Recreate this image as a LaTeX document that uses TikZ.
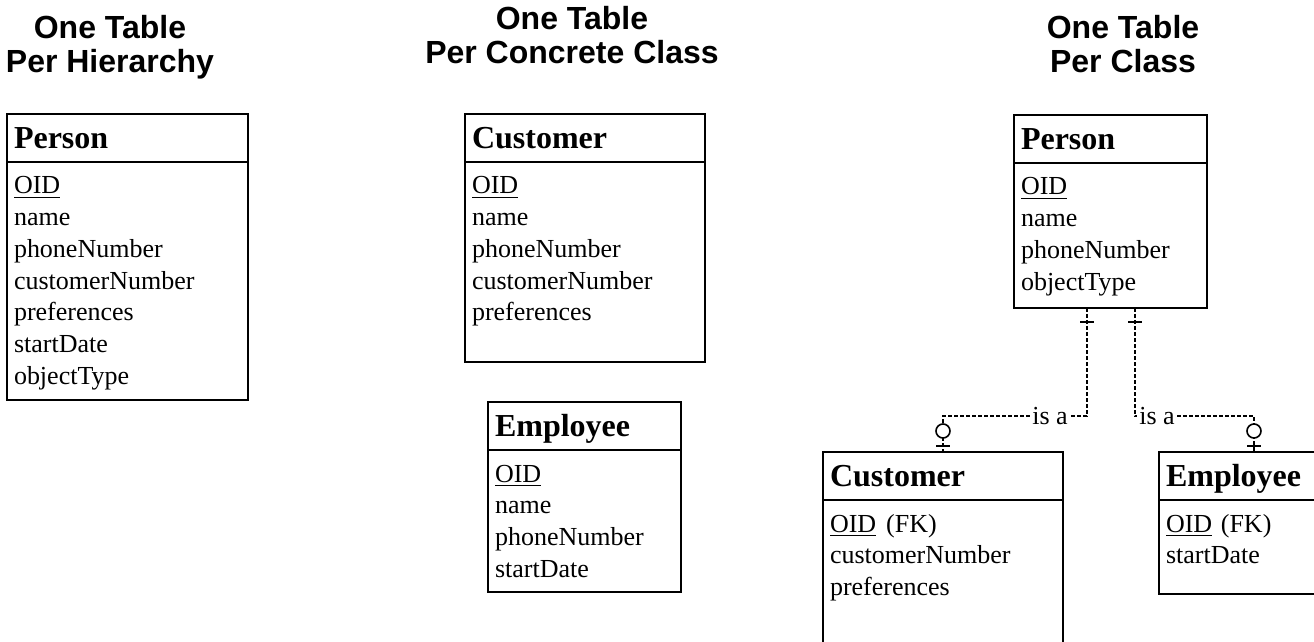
\documentclass[tikz,border=0pt]{standalone}
\usepackage{fontspec}
\setmainfont{Liberation Serif}
\newfontfamily\headfont{Liberation Sans}
\usetikzlibrary{positioning}

\begin{document}
\begin{tikzpicture}[x=0.5pt,y=-0.5pt,
  colhead/.style={align=center,anchor=north,inner sep=0pt,font=\headfont\bfseries\fontsize{16}{17}\selectfont},
  tabhead/.style={draw,line width=1pt,outer sep=0pt,anchor=north west,inner xsep=3.5pt,minimum height=24pt,
    text height=10.6pt,text depth=0pt,align=left,font=\bfseries\fontsize{16}{19}\selectfont},
  tabbody/.style={draw,line width=1pt,outer sep=0pt,below=0pt of #1,inner xsep=3.5pt,inner ysep=5pt,
    text height=11pt,align=left,font=\fontsize{13}{15.85}\selectfont},
  isa/.style={line width=0.6pt,dash pattern=on 2pt off 1pt},
  isa label/.style={inner sep=1pt,font=\fontsize{13}{15.85}\selectfont},
  isabar/.style={line width=0.8pt},
  isaring/.style={line width=0.8pt,fill=white}]
  \useasboundingbox (0,0) rectangle (1314,642);
  \clip (0,0) rectangle (1314,642);

  \node[colhead] (hierTitle) at (110,15) {One Table\\Per Hierarchy};
  \node[colhead] (concTitle) at (572,6) {One Table\\Per Concrete Class};
  \node[colhead] (classTitle) at (1123,15) {One Table\\Per Class};

  % one table per hierarchy
  \node[tabhead,text width=113.5pt] (hierP) at (7,114) {Person};
  \node[tabbody=hierP,text width=113.5pt,text depth=98pt] (hierPbody)
    {\underline{OID}\\name\\phoneNumber\\customerNumber\\preferences\\startDate\\objectType};

  % one table per concrete class
  \node[tabhead,text width=113pt] (concC) at (465,114) {Customer};
  \node[tabbody=concC,text width=113pt,text depth=79pt] (concCbody)
    {\underline{OID}\\name\\phoneNumber\\customerNumber\\preferences};
  \node[tabhead,text width=89.5pt] (concE) at (488,402) {Employee};
  \node[tabbody=concE,text width=89.5pt,text depth=50pt] (concEbody)
    {\underline{OID}\\name\\phoneNumber\\startDate};

  % one table per class
  \node[tabhead,text width=89.5pt] (classP) at (1014,115) {Person};
  \node[tabbody=classP,text width=89.5pt,text depth=51.5pt] (classPbody)
    {\underline{OID}\\name\\phoneNumber\\objectType};
  \node[tabhead,text width=113pt] (classC) at (823,452) {Customer};
  \node[tabbody=classC,text width=113pt,text depth=79pt] (classCbody)
    {\underline{OID}\hspace{5pt}(FK)\\customerNumber\\preferences};
  \node[tabhead,text width=88pt] (classE) at (1159,452) {Employee};
  \node[tabbody=classE,text width=88pt,text depth=26pt] (classEbody)
    {\underline{OID} (FK)\\startDate};

  \node[isa label] (isaC) at (1050,416) {is a};
  \node[isa label] (isaE) at (1157,416) {is a};
  \draw[isa] ([xshift=-11.75pt]classPbody.south) |- (isaC.east);
  \draw[isa] (isaC.west) -| (classC.north);
  \draw[isa] ([xshift=12.25pt]classPbody.south) |- (isaE.west);
  \draw[isa] (isaE.east) -| (classE.north);
  \draw[isabar] ([xshift=-11.75pt,yshift=-7pt]classPbody.south) +(-3.5pt,0) -- +(3.5pt,0);
  \draw[isabar] ([xshift=12.25pt,yshift=-7pt]classPbody.south) +(-3.5pt,0) -- +(3.5pt,0);
  \draw[isabar] ([yshift=3pt]classC.north) +(-3.5pt,0) -- +(3.5pt,0);
  \draw[isabar] ([yshift=3pt]classE.north) +(-3.5pt,0) -- +(3.5pt,0);
  \draw[isaring] ([yshift=10.5pt]classC.north) circle[radius=3.5pt];
  \draw[isaring] ([yshift=10.5pt]classE.north) circle[radius=3.5pt];
\end{tikzpicture}
\end{document}
